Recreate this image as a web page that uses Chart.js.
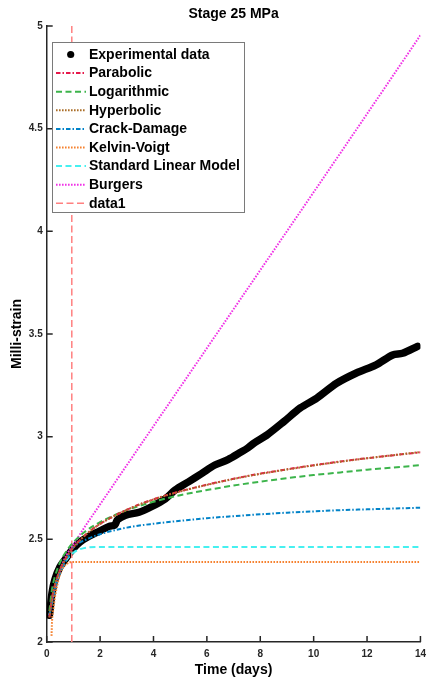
<!DOCTYPE html>
<html>
<head>
<meta charset="utf-8">
<script src="https://cdn.jsdelivr.net/npm/chart.js@4/dist/chart.umd.min.js"></script>
<style>
  html, body { margin: 0; padding: 0; background: #fff; }
  #wrap { width: 432px; height: 683px; }
</style>
</head>
<body>
<div id="wrap"><canvas id="c" width="432" height="683"></canvas></div>
<script>
// Creep test, stage 25 MPa: measured strain and fitted creep models
const expTime   = [0.10, 0.12, 0.20, 0.31, 0.49, 0.68, 0.92, 1.23, 1.60, 1.98, 2.34, 2.55, 2.65, 2.96, 3.46, 3.94, 4.44, 4.81, 5.31, 5.80, 6.30, 6.79, 7.28, 7.53, 7.78, 8.27, 8.89, 9.50, 10.12, 10.86, 11.60, 12.34, 12.96, 13.33, 13.89];
const expStrain = [2.13, 2.15, 2.24, 2.305, 2.364, 2.40, 2.443, 2.485, 2.516, 2.54, 2.563, 2.57, 2.595, 2.618, 2.632, 2.66, 2.697, 2.74, 2.78, 2.82, 2.862, 2.888, 2.925, 2.945, 2.97, 3.01, 3.074, 3.14, 3.188, 3.26, 3.31, 3.35, 3.398, 3.406, 3.44];

const modelTime   = [0.1, 0.2, 0.3, 0.5, 0.75, 1, 1.5, 2, 3, 4, 5, 6, 7, 8, 9, 10, 11, 12, 13, 14];
const parabolic   = [2.12, 2.215, 2.274, 2.352, 2.415, 2.461, 2.527, 2.575, 2.644, 2.695, 2.734, 2.766, 2.795, 2.82, 2.841, 2.861, 2.879, 2.895, 2.91, 2.924];
const hyperbolic  = [2.12, 2.213, 2.273, 2.351, 2.414, 2.46, 2.527, 2.575, 2.643, 2.694, 2.733, 2.765, 2.794, 2.819, 2.84, 2.86, 2.878, 2.895, 2.91, 2.925];
const logarithmic = [2.15, 2.257, 2.315, 2.388, 2.445, 2.486, 2.544, 2.584, 2.642, 2.683, 2.715, 2.74, 2.762, 2.781, 2.798, 2.813, 2.826, 2.839, 2.85, 2.861];
const crackDamage = [2.13, 2.2, 2.26, 2.34, 2.405, 2.46, 2.5, 2.525, 2.557, 2.576, 2.59, 2.603, 2.613, 2.622, 2.63, 2.636, 2.642, 2.646, 2.65, 2.654];

const kvTime       = [0.18, 0.2, 0.25, 0.3, 0.4, 0.5, 0.6, 0.7, 0.85, 1, 14];
const kelvinVoigt  = [2.03, 2.1, 2.16, 2.21, 2.28, 2.33, 2.36, 2.375, 2.387, 2.39, 2.39];
const slmTime      = [0.1, 0.2, 0.3, 0.5, 0.75, 1, 1.25, 1.5, 2, 14];
const standardLin  = [2.13, 2.2, 2.26, 2.34, 2.4, 2.435, 2.452, 2.46, 2.463, 2.463];
const burgersTime  = [0.1, 0.2, 0.3, 0.5, 0.75, 1, 1.5, 2, 3, 5, 8, 11, 14];
const burgers      = [2.13, 2.2, 2.26, 2.35, 2.425, 2.475, 2.575, 2.67, 2.861, 3.241, 3.811, 4.381, 4.955];

const markerTime   = [0.94, 0.94];
const markerStrain = [2, 5];

const xTicks = [0, 2, 4, 6, 8, 10, 12, 14];
const yTicks = [2, 2.5, 3, 3.5, 4, 4.5, 5];

const pts = (xs, ys) => xs.map((x, i) => ({ x, y: ys[i] }));
const AXIS = '#262626';
const FONT = '"Liberation Sans", Arial, Helvetica, sans-serif';
Chart.defaults.font.family = FONT;

const DASH_DOT = [4.5, 2, 1.5, 2];
const DASHED = [6, 3.5];
const DOTTED = [1.6, 1.4];

function series(label, data, color, dash, order, kind) {
  return {
    label, data, borderColor: color, backgroundColor: color,
    borderDash: dash, borderWidth: 2, pointRadius: 0, fill: false,
    cubicInterpolationMode: 'monotone', order, kind
  };
}

const datasets = [
  {
    label: 'Experimental data', data: pts(expTime, expStrain),
    borderColor: '#000', backgroundColor: '#000', borderWidth: 7.5,
    borderCapStyle: 'round', borderJoinStyle: 'round',
    pointRadius: 0, tension: 0.3, order: 20, kind: 'marker'
  },
  series('Parabolic', pts(modelTime, parabolic), 'rgb(230,25,75)', DASH_DOT, 2),
  series('Logarithmic', pts(modelTime, logarithmic), 'rgb(60,180,75)', DASHED, 3),
  series('Hyperbolic', pts(modelTime, hyperbolic), 'rgb(170,110,40)', DOTTED, 1),
  series('Crack-Damage', pts(modelTime, crackDamage), 'rgb(0,130,200)', DASH_DOT, 4),
  series('Kelvin-Voigt', pts(kvTime, kelvinVoigt), 'rgb(245,130,48)', DOTTED, 5),
  series('Standard Linear Model', pts(slmTime, standardLin), 'rgb(70,240,240)', DASHED, 6),
  series('Burgers', pts(burgersTime, burgers), 'rgb(240,50,230)', DOTTED, 7),
  {
    label: 'data1', data: pts(markerTime, markerStrain),
    borderColor: 'rgb(255,128,128)', borderDash: [7, 3.5], borderWidth: 1.5,
    pointRadius: 0, order: 8
  }
];

// Tick marks drawn inward from the axis lines
const innerTicks = {
  id: 'innerTicks',
  beforeDatasetsDraw(chart) {
    const { ctx, chartArea: a, scales: { x, y } } = chart;
    ctx.save();
    ctx.strokeStyle = AXIS;
    ctx.lineWidth = 1.5;
    ctx.beginPath();
    xTicks.forEach(v => {
      const px = x.getPixelForValue(v);
      ctx.moveTo(px, a.bottom); ctx.lineTo(px, a.bottom - 6);
    });
    yTicks.forEach(v => {
      const py = y.getPixelForValue(v);
      ctx.moveTo(a.left, py); ctx.lineTo(a.left + 6, py);
    });
    ctx.stroke();
    ctx.restore();
  }
};

// Boxed legend in the upper-left corner of the plot
const boxLegend = {
  id: 'boxLegend',
  afterDraw(chart) {
    const ctx = chart.ctx;
    const L = 52.5, T = 42.5, W = 192, H = 170;
    ctx.save();
    ctx.fillStyle = '#fff';
    ctx.fillRect(L, T, W, H);
    ctx.strokeStyle = '#7a7a7a';
    ctx.lineWidth = 1;
    ctx.strokeRect(L, T, W, H);
    ctx.font = 'bold 14px ' + FONT;
    ctx.textBaseline = 'middle';
    chart.data.datasets.forEach((ds, i) => {
      const cy = 54.5 + i * 18.6;
      if (ds.kind === 'marker') {
        ctx.fillStyle = '#000';
        ctx.beginPath();
        ctx.arc(70.7, cy, 3.6, 0, Math.PI * 2);
        ctx.fill();
      } else {
        ctx.strokeStyle = ds.borderColor;
        ctx.lineWidth = ds.label === 'data1' ? 1.5 : 2;
        ctx.setLineDash(ds.borderDash || []);
        ctx.beginPath();
        ctx.moveTo(56, cy); ctx.lineTo(86, cy);
        ctx.stroke();
        ctx.setLineDash([]);
      }
      ctx.fillStyle = '#000';
      ctx.fillText(ds.label, 89, cy + 0.5);
    });
    ctx.restore();
  }
};

new Chart(document.getElementById('c'), {
  type: 'line',
  data: { datasets },
  options: {
    responsive: false,
    animation: false,
    layout: { padding: { left: 0, right: 8, top: 0, bottom: 0 } },
    plugins: {
      legend: { display: false },
      tooltip: { enabled: false },
      title: {
        display: true, text: 'Stage 25 MPa', color: '#000', fullSize: false,
        font: { size: 14, weight: 'bold' },
        padding: { top: 5.4, bottom: 3.8 }
      }
    },
    scales: {
      x: {
        type: 'linear', min: 0, max: 14,
        afterFit(s) { s.height = 41; },
        afterBuildTicks(s) { s.ticks = xTicks.map(v => ({ value: v })); },
        grid: { display: false, drawTicks: false },
        border: { display: true, color: AXIS, width: 1.5 },
        ticks: { color: AXIS, font: { size: 10, weight: 'bold' }, padding: 6, maxRotation: 0,
                 callback: v => String(v) },
        title: {
          display: true, text: 'Time (days)', color: '#000',
          font: { size: 14, weight: 'bold' }, padding: { top: 0, bottom: 4.6 }
        }
      },
      y: {
        type: 'linear', min: 2, max: 5,
        afterFit(s) { s.width = 46.7; },
        afterBuildTicks(s) { s.ticks = yTicks.map(v => ({ value: v })); },
        grid: { display: false, drawTicks: false },
        border: { display: true, color: AXIS, width: 1.5 },
        ticks: { color: AXIS, font: { size: 10, weight: 'bold' }, padding: 4,
                 callback: v => String(v) },
        title: {
          display: true, text: 'Milli-strain', color: '#000',
          font: { size: 14, weight: 'bold' }, padding: { top: 9, bottom: 0 }
        }
      }
    }
  },
  plugins: [innerTicks, boxLegend]
});
</script>
</body>
</html>
